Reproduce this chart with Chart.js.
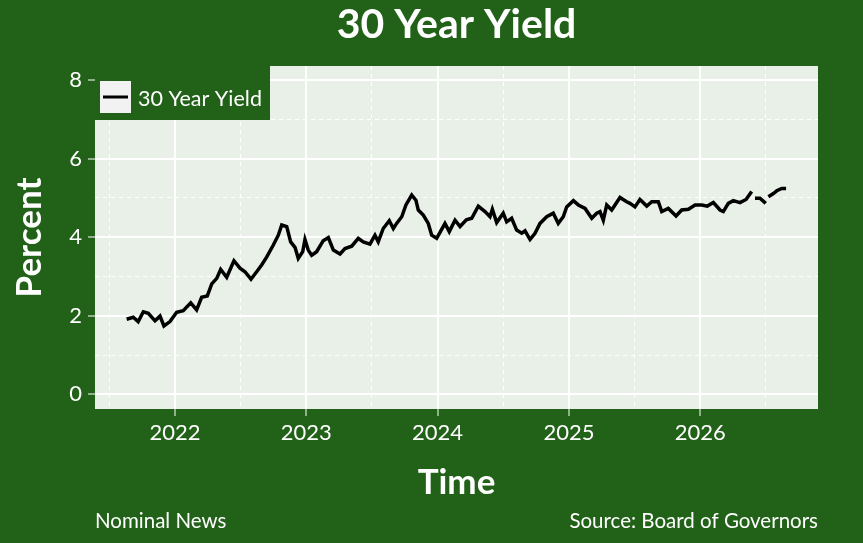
<!DOCTYPE html>
<html>
<head>
<meta charset="utf-8">
<script src="https://cdn.jsdelivr.net/npm/chart.js@4.4.1/dist/chart.umd.min.js"></script>
<style>
  html, body { margin: 0; padding: 0; background: #226118; }
  #wrap { width: 863px; height: 543px; position: relative; }
</style>
</head>
<body>
<div id="wrap"><canvas id="myChart"></canvas></div>
<script>
// time in decimal years, yield in percent
const years = [
  2021.632, 2021.682, 2021.720, 2021.759, 2021.797, 2021.848, 2021.886, 2021.916, 2021.962,
  2022.013, 2022.063, 2022.120, 2022.165, 2022.203, 2022.246, 2022.280, 2022.318, 2022.348,
  2022.394, 2022.449, 2022.495, 2022.533, 2022.579, 2022.622, 2022.660, 2022.698, 2022.749,
  2022.787, 2022.813, 2022.851, 2022.881, 2022.914, 2022.939, 2022.973, 2022.990,
  2023.015, 2023.041, 2023.079, 2023.129, 2023.168, 2023.206, 2023.257, 2023.295, 2023.346,
  2023.396, 2023.434, 2023.485, 2023.523, 2023.548, 2023.586, 2023.632, 2023.663, 2023.688,
  2023.727, 2023.759, 2023.803, 2023.835, 2023.853, 2023.891, 2023.929, 2023.955, 2023.993,
  2024.031, 2024.056, 2024.089, 2024.133, 2024.171, 2024.219, 2024.260, 2024.310, 2024.361,
  2024.399, 2024.417, 2024.450, 2024.500, 2024.526, 2024.564, 2024.602, 2024.641, 2024.666,
  2024.704, 2024.742, 2024.780, 2024.831, 2024.881, 2024.919, 2024.957, 2024.983,
  2025.034, 2025.072, 2025.123, 2025.174, 2025.212, 2025.237, 2025.262, 2025.288, 2025.326,
  2025.389, 2025.440, 2025.465, 2025.503, 2025.541, 2025.593, 2025.631, 2025.681, 2025.707,
  2025.757, 2025.816, 2025.859, 2025.910, 2025.961,
  2026.012, 2026.054, 2026.100, 2026.151, 2026.176, 2026.214, 2026.252, 2026.303, 2026.349,
  2026.392, 2026.406, 2026.417, 2026.455, 2026.499, 2026.509, 2026.519, 2026.557, 2026.583,
  2026.621, 2026.654
];
const yield30 = [
  1.91, 1.96, 1.85, 2.10, 2.06, 1.87, 1.99, 1.74, 1.85,
  2.09, 2.13, 2.33, 2.15, 2.47, 2.50, 2.81, 2.95, 3.18,
  2.98, 3.40, 3.21, 3.12, 2.93, 3.12, 3.29, 3.49, 3.80,
  4.05, 4.31, 4.27, 3.88, 3.74, 3.46, 3.63, 3.94,
  3.67, 3.54, 3.63, 3.91, 3.99, 3.67, 3.57, 3.71, 3.77,
  3.97, 3.88, 3.82, 4.05, 3.88, 4.22, 4.42, 4.22, 4.35,
  4.52, 4.82, 5.07, 4.94, 4.69, 4.56, 4.35, 4.05, 3.97,
  4.20, 4.35, 4.14, 4.43, 4.27, 4.44, 4.48, 4.79, 4.65,
  4.52, 4.71, 4.37, 4.61, 4.39, 4.48, 4.18, 4.10, 4.16,
  3.94, 4.10, 4.35, 4.52, 4.61, 4.35, 4.52, 4.77,
  4.93, 4.82, 4.73, 4.48, 4.61, 4.65, 4.43, 4.82, 4.69,
  5.01, 4.90, 4.86, 4.77, 4.96, 4.79, 4.90, 4.90, 4.65,
  4.73, 4.54, 4.69, 4.71, 4.82,
  4.82, 4.79, 4.88, 4.69, 4.65, 4.86, 4.93, 4.88, 4.96,
  5.16, null, 4.99, 4.99, 4.86, null, 5.03, 5.11, 5.18,
  5.24, 5.24
];
const seriesName = '30 Year Yield';
const chartTitle = '30 Year Yield';

const GREEN = '#226118';
const PANEL = '#e9f0e8';
const FONT = 'Lato, "Open Sans", sans-serif';

const isMajorX = v => Math.abs(v - Math.round(v)) < 1e-6;
const isMajorY = v => Math.abs(v / 2 - Math.round(v / 2)) < 1e-6;

const bgPlugin = {
  id: 'bg',
  beforeDraw(chart) {
    const {ctx, chartArea: a} = chart;
    ctx.save();
    ctx.fillStyle = GREEN;
    ctx.fillRect(0, 0, chart.width, chart.height);
    ctx.fillStyle = PANEL;
    ctx.fillRect(a.left, a.top, a.right - a.left, a.bottom - a.top);
    ctx.restore();
  }
};

const textPlugin = {
  id: 'textPlugin',
  afterDraw(chart) {
    const {ctx, chartArea: a} = chart;
    ctx.save();
    // title, centred on the panel
    ctx.fillStyle = '#fff';
    ctx.font = 'bold 41px ' + FONT;
    ctx.textAlign = 'center';
    ctx.textBaseline = 'middle';
    ctx.fillText(chartTitle, (a.left + a.right) / 2, 25);
    // legend box on top of the panel
    ctx.fillStyle = GREEN;
    ctx.fillRect(a.left, a.top, 175, 54);
    ctx.fillStyle = '#f2f2f2';
    ctx.fillRect(a.left + 5, a.top + 15, 31, 32);
    ctx.strokeStyle = '#000';
    ctx.lineWidth = 3;
    ctx.beginPath();
    ctx.moveTo(a.left + 8, a.top + 31);
    ctx.lineTo(a.left + 33, a.top + 31);
    ctx.stroke();
    ctx.fillStyle = '#fff';
    ctx.font = '21.5px ' + FONT;
    ctx.textBaseline = 'alphabetic';
    ctx.textAlign = 'left';
    ctx.fillText(seriesName, a.left + 43, a.top + 40);
    // footer
    ctx.font = '20.5px ' + FONT;
    ctx.fillText('Nominal News', a.left, 528);
    ctx.textAlign = 'right';
    ctx.fillText('Source: Board of Governors', a.right, 528);
    ctx.restore();
  }
};

window.addEventListener('load', setup);

function setup() {
  const points = years.map((x, i) => ({x: x, y: yield30[i]}));
  const ctx = document.getElementById('myChart').getContext('2d');
  new Chart(ctx, {
    type: 'line',
    data: {
      datasets: [{
        label: seriesName,
        data: points,
        borderColor: '#000',
        backgroundColor: '#000',
        borderWidth: 3.5,
        pointRadius: 0,
        tension: 0,
        spanGaps: false
      }]
    },
    options: {
      responsive: true,
      maintainAspectRatio: false,
      animation: false,
      layout: { padding: { left: 0, right: 45, top: 66, bottom: 0 } },
      plugins: {
        legend: { display: false },
        tooltip: { enabled: false },
        title: { display: false }
      },
      scales: {
        x: {
          type: 'linear',
          min: 2021.391,
          max: 2026.897,
          afterFit: s => { s.height = 134; },
          border: { display: false, dash: c => isMajorX(c.tick.value) ? [] : [4, 4] },
          grid: {
            color: '#fff',
            lineWidth: c => c.tick && isMajorX(c.tick.value) ? 2 : 1,
            tickColor: c => c.tick && isMajorX(c.tick.value) ? '#fff' : 'rgba(0,0,0,0)',
            tickLength: 7,
            tickWidth: 1
          },
          ticks: {
            stepSize: 0.5,
            includeBounds: false,
            autoSkip: false,
            maxRotation: 0,
            padding: 4,
            color: '#fff',
            font: { family: FONT, size: 22 },
            callback: v => isMajorX(v) ? String(Math.round(v)) : ''
          },
          title: {
            display: true,
            text: 'Time',
            color: '#fff',
            font: { family: FONT, size: 35, weight: 'bold' },
            padding: { top: 0, bottom: 39 }
          }
        },
        y: {
          min: -0.374,
          max: 8.356,
          afterFit: s => { s.width = 95; },
          border: { display: false, dash: c => isMajorY(c.tick.value) ? [] : [4, 4] },
          grid: {
            color: '#fff',
            lineWidth: c => c.tick && isMajorY(c.tick.value) ? 2 : 1,
            tickColor: c => c.tick && isMajorY(c.tick.value) ? '#fff' : 'rgba(0,0,0,0)',
            tickLength: 7,
            tickWidth: 1
          },
          ticks: {
            stepSize: 1,
            includeBounds: false,
            autoSkip: false,
            padding: 6,
            color: '#fff',
            font: { family: FONT, size: 22 },
            callback: v => isMajorY(v) ? String(Math.round(v)) : ''
          },
          title: {
            display: true,
            text: 'Percent',
            color: '#fff',
            font: { family: FONT, size: 35, weight: 'bold' },
            padding: { top: 9, bottom: 0 }
          }
        }
      }
    },
    plugins: [bgPlugin, textPlugin]
  });
}
</script>
</body>
</html>
